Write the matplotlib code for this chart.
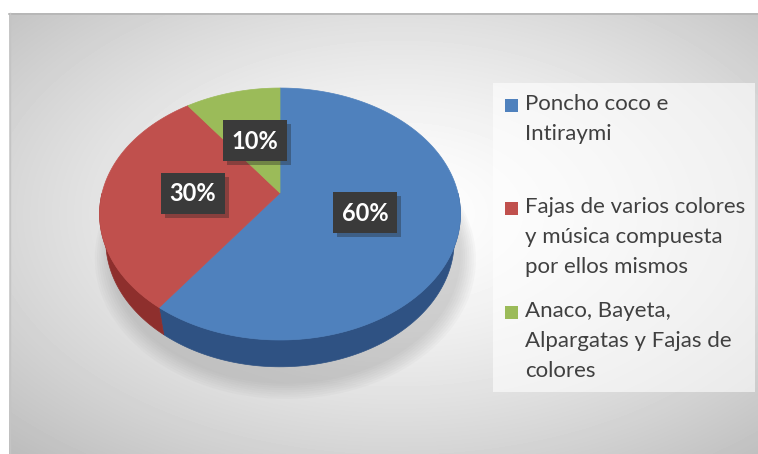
import numpy as np
import matplotlib
matplotlib.use('Agg')
import matplotlib.pyplot as plt
from matplotlib.patches import Polygon, Rectangle

# data
labels = ['Poncho coco e\nIntiraymi',
          'Fajas de varios colores\ny música compuesta\npor ellos mismos',
          'Anaco, Bayeta,\nAlpargatas y Fajas de\ncolores']
values = [60, 30, 10]
pct_text = ['60%', '30%', '10%']
top_colors = ['#4f81bd', '#c0504d', '#9bbb59']
side_colors = ['#2f5283', '#8e2f2d', '#6f8a3a']

W, H = 758, 454
fig = plt.figure(figsize=(W / 100, H / 100), dpi=100)
fig.patch.set_facecolor('white')

# background panel with radial gradient
bg = fig.add_axes([9 / W, 0, 1 - 9 / W, (H - 13) / H])
bg.set_axis_off()
yy, xx = np.mgrid[0:441, 0:749]
rx = (xx - 390) / 375.0
ry = (yy - 200) / 220.0
r = np.sqrt((rx ** 2 + ry ** 2) / 2)
v = np.clip(1 - 0.24 * r ** 1.4, 0, 1)
bg.imshow(v, cmap='gray', vmin=0, vmax=1, aspect='auto', interpolation='bilinear')

# drawing axes in pixel coordinates
ax = fig.add_axes([0, 0, 1, 1])
ax.set_xlim(0, W)
ax.set_ylim(H, 0)
ax.set_axis_off()
ax.patch.set_alpha(0)

# top/left border line of panel
ax.plot([9, W], [13.5, 13.5], color='#b4b4b4', lw=1.2)
ax.plot([9.5, 9.5], [13, H], color='#c4c4c4', lw=1)

# perspective projection of a disk
tilt = np.radians(43.5)
ca, sa = np.cos(tilt), np.sin(tilt)
dist, F = 4.35, 774.0
cx, cy = 280.0, 193.0
thick = 0.22


def proj(X, Y, Z):
    ry_ = Y + dist * ca
    rz_ = Z - dist * sa
    depth = ry_ * ca - rz_ * sa
    up = ry_ * sa + rz_ * ca
    return cx + F * X / depth, cy - F * up / depth


# let matplotlib compute the wedge angles
wedges, _ = ax.pie(values, startangle=90, counterclock=False, radius=1)
angles = [(w.theta1, w.theta2) for w in wedges]
for w in wedges:
    w.remove()
ax.set_xlim(0, W)
ax.set_ylim(H, 0)
ax.set_aspect('auto')

# soft shadow
for k in range(8):
    t = np.linspace(0, 2 * np.pi, 200)
    sc = 1.0 + 0.012 * k
    px, py = proj(sc * np.cos(t) + 0.03, sc * np.sin(t) - 0.06, -thick - 0.02)
    ax.add_patch(Polygon(np.c_[px, py + 4], closed=True, color='#808080',
                         alpha=0.045, lw=0, zorder=1))

# side faces (front half only)
for (t1, t2), col in zip(angles, side_colors):
    lo, hi = min(t1, t2), max(t1, t2)
    th = np.linspace(lo, hi, 200)
    th = th[(th % 360 >= 180)]
    if len(th) < 2:
        continue
    tr = np.radians(th)
    x1, y1 = proj(np.cos(tr), np.sin(tr), 0)
    x2, y2 = proj(np.cos(tr), np.sin(tr), -thick)
    poly = np.r_[np.c_[x1, y1], np.c_[x2, y2][::-1]]
    ax.add_patch(Polygon(poly, closed=True, facecolor=col, edgecolor=col,
                         lw=0.5, zorder=2))

# top faces
for (t1, t2), col in zip(angles, top_colors):
    th = np.radians(np.linspace(t1, t2, 200))
    px, py = proj(np.cos(th), np.sin(th), 0)
    ox, oy = proj(0, 0, 0)
    poly = np.r_[[[ox, oy]], np.c_[px, py]]
    ax.add_patch(Polygon(poly, closed=True, facecolor=col, edgecolor=col,
                         lw=0.5, zorder=3))

# percentage labels in dark boxes
for (t1, t2), txt in zip(angles, pct_text):
    mid = np.radians((t1 + t2) / 2)
    lx, ly = proj(0.49 * np.cos(mid), 0.49 * np.sin(mid), 0)
    ax.add_patch(Rectangle((lx - 32 + 4, ly - 20 + 4), 64, 41, color='#202020',
                           alpha=0.35, lw=0, zorder=4))
    ax.add_patch(Rectangle((lx - 32, ly - 20), 64, 41, color='#3a3a3a',
                           lw=0, zorder=5))
    ax.text(lx, ly + 1, txt, color='white', fontsize=17, fontweight='bold',
            family=['Lato', 'DejaVu Sans'], ha='center', va='center', zorder=6)

# legend box
ax.add_patch(Rectangle((493, 83), 262, 309, facecolor='white', alpha=0.6,
                       lw=0, zorder=4))
entry_y = [105, 208, 312]
for lab, col, ey in zip(labels, top_colors, entry_y):
    ax.add_patch(Rectangle((505, ey - 6.5), 13, 13, color=col, lw=0, zorder=5))
    ax.text(525, ey - 11, lab, color='#404040', fontsize=16,
            family=['Lato', 'DejaVu Sans'], ha='left', va='top',
            linespacing=1.62, zorder=6)

fig.savefig('out.png', dpi=100)
